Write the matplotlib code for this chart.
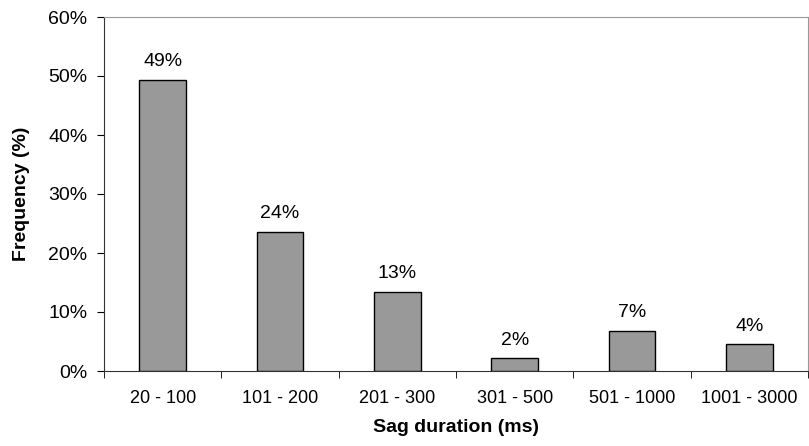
import numpy as np
import matplotlib.pyplot as plt
from matplotlib.ticker import PercentFormatter

plt.rcParams['font.family'] = ['Liberation Sans', 'DejaVu Sans']

# Длительность провала и частота
categories = ["20 - 100", "101 - 200", "201 - 300", "301 - 500", "501 - 1000", "1001 - 3000"]
freq = [49.4, 23.6, 13.4, 2.2, 6.8, 4.5]
labels = ["49%", "24%", "13%", "2%", "7%", "4%"]

fig = plt.figure(figsize=(8.09, 4.46), dpi=100)
ax = fig.add_axes([104/809, 1 - 371/446, 704/809, 354/446])

x = np.arange(len(categories))
bars = ax.bar(x, freq, width=0.4, color="#999999", edgecolor="black", linewidth=1)

# подписи над столбцами
for b, lab in zip(bars, labels):
    ax.text(b.get_x() + b.get_width()/2, b.get_height() + 1.6, lab,
            ha="center", va="bottom", fontsize=14)

ax.set_xlim(-0.5, len(categories) - 0.5)
ax.set_ylim(0, 60)
ax.set_yticks(np.arange(0, 61, 10))
ax.yaxis.set_major_formatter(PercentFormatter(decimals=0))
ax.set_xticks(x)
ax.set_xticklabels(categories)
ax.tick_params(axis="x", length=0, pad=13.5, labelsize=13)
ax.tick_params(axis="y", length=5, labelsize=14, pad=7)
ax.set_xticks(np.arange(-0.5, len(categories)), minor=True)
ax.tick_params(axis="x", which="minor", length=5, direction="out")

ax.spines["left"].set_color("#333333")
ax.spines["bottom"].set_color("#333333")
ax.spines["top"].set_color("#999999")
ax.spines["right"].set_color("#999999")

ax.set_xlabel("Sag duration (ms)", fontweight="bold", fontsize=14, labelpad=8.5)
ax.set_ylabel("Frequency (%)", fontweight="bold", fontsize=14, labelpad=13)

fig.savefig("out.png", dpi=100)
